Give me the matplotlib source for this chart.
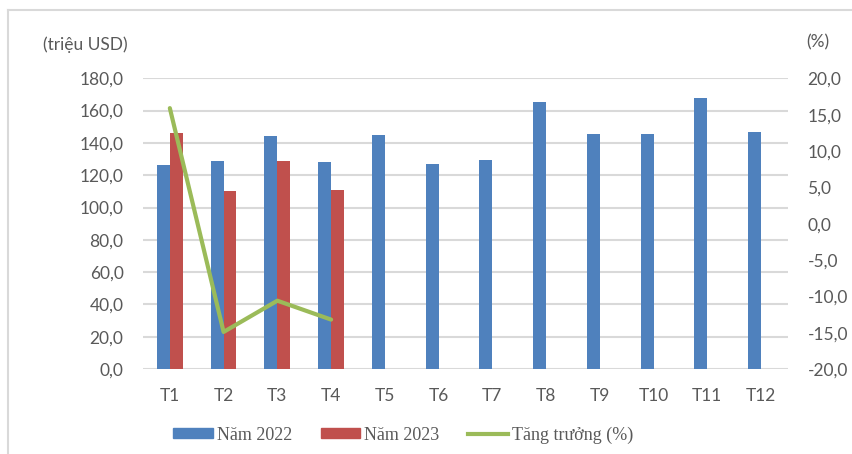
import matplotlib
matplotlib.use('Agg')
from matplotlib import pyplot as plt
from matplotlib.lines import Line2D
from matplotlib.patches import Patch
import numpy as np

months = ['T1', 'T2', 'T3', 'T4', 'T5', 'T6', 'T7', 'T8', 'T9', 'T10', 'T11', 'T12']
y2022 = [126.3, 128.8, 144.3, 128.2, 144.9, 126.9, 129.4, 165.1, 145.5, 145.5, 168.0, 146.9]
y2023 = [146.1, 110.0, 128.8, 110.6]
growth = [15.9, -14.9, -10.6, -13.2]

blue = '#4F81BD'
red = '#C0504D'
green = '#9BBB59'
gray = '#595959'
tickfont = 'Lato'

fig = plt.figure(figsize=(8.53, 4.54), dpi=100)
ax = fig.add_axes([0.1676, 0.1872, 0.7562, 0.6403])
ax2 = ax.twinx()

x = np.arange(len(months))
w = 0.24
ax.bar(x - w/2, y2022, width=w, color=blue, zorder=3)
ax.bar(x[:len(y2023)] + w/2, y2023, width=w, color=red, zorder=3)
ax2.plot(x[:len(growth)], growth, color=green, lw=3.0, solid_capstyle='round', zorder=4)

ax.set_xlim(-0.5, len(months) - 0.5)
ax.set_ylim(0, 180)
ax.set_yticks(np.arange(0, 181, 20))
ax.set_yticklabels([f'{v:.1f}'.replace('.', ',') for v in np.arange(0, 181, 20)])
ax2.set_ylim(-20, 20)
ax2.set_yticks(np.arange(-20, 21, 5))
ax2.set_yticklabels([f'{v:.1f}'.replace('.', ',') for v in np.arange(-20, 21, 5)])
ax.set_xticks(x)
ax.set_xticklabels(months)

ax.grid(axis='y', color='#D9D9D9', lw=1.5, zorder=0)
ax.set_axisbelow(True)
for a in (ax, ax2):
    for s in a.spines.values():
        s.set_visible(False)
ax.tick_params(axis='both', length=0, labelsize=12.5, labelcolor=gray)
ax.tick_params(axis='y', pad=14)
ax.tick_params(axis='x', pad=14)
ax2.tick_params(axis='y', length=0, labelsize=12.5, labelcolor=gray, pad=14)
for lab in ax.get_xticklabels() + ax.get_yticklabels() + ax2.get_yticklabels():
    lab.set_fontfamily(tickfont)

fig.text(43/853, 1 - 45/454, '(triệu USD)', fontsize=12.5, color=gray, family=tickfont, va='center', ha='left')
fig.text(806/853, 1 - 42/454, '(%)', fontsize=12.5, color=gray, family=tickfont, va='center', ha='left')

# chart frame (left and top edges only)
fig.add_artist(Line2D([8/853, 8/853], [0, 1 - 10/454], transform=fig.transFigure, color='#D9D9D9', lw=1.5))
fig.add_artist(Line2D([8/853, 1], [1 - 10/454, 1 - 10/454], transform=fig.transFigure, color='#D9D9D9', lw=1.5))

handles = [Patch(color=blue), Patch(color=red), Line2D([], [], color=green, lw=3.0)]
labels = ['Năm 2022', 'Năm 2023', 'Tăng trưởng (%)']
leg = fig.legend(handles, labels, loc='center', bbox_to_anchor=(403/853, 1 - 435/454), ncol=3,
                 frameon=False, prop={'family': 'Liberation Serif', 'size': 13},
                 handlelength=2.2, handleheight=0.45, handletextpad=0.2, columnspacing=1.6)
for t in leg.get_texts():
    t.set_color(gray)

fig.savefig('out.png', dpi=100)
